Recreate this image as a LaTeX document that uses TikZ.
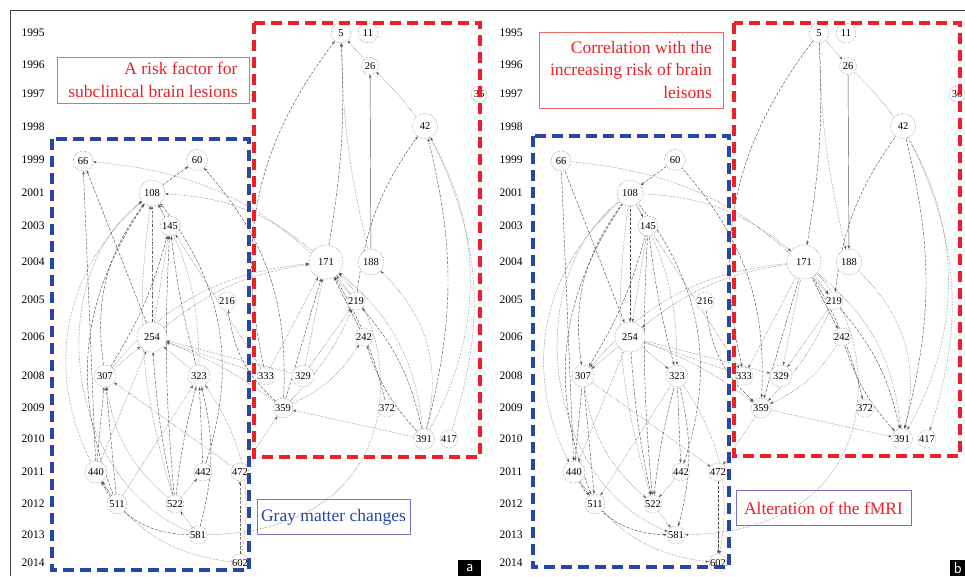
\documentclass[tikz,border=0pt]{standalone}
\usepackage{fontspec}
\setmainfont{Liberation Serif}
\usetikzlibrary{arrows.meta}
\definecolor{groupblue}{RGB}{38,70,168}
\definecolor{groupred}{RGB}{236,32,40}
\definecolor{tagred}{RGB}{240,105,95}
\definecolor{tagblue}{RGB}{120,115,205}
\pgfdeclarelayer{background}
\pgfsetlayers{background,main}

\begin{document}
\begin{tikzpicture}[x=1pt,y=-1pt,
  paper/.style={circle, draw=black!65, densely dotted, thin, fill=white, inner sep=0.3pt,
    font=\fontsize{10.5}{10.5}\selectfont},
  yearlabel/.style={font=\fontsize{11.5}{11.5}\selectfont},
  edge/.style={draw=black!68, line width=0.45pt, >={Stealth[length=3.4pt,width=2.6pt]}},
  dottedline/.style={densely dotted},
  dashedline/.style={dash pattern=on 3pt off 1.5pt},
  plainline/.style={solid},
  groupbox/.style={line width=3.2pt, dash pattern=on 11pt off 6pt},
  tagbox/.style={draw, line width=0.7pt, align=right, font=\fontsize{17.5}{22.5}\selectfont},
  panelmark/.style={fill=black, text=white, font=\sffamily\fontsize{16}{16}\selectfont,
    minimum width=23, minimum height=16, inner sep=0pt, anchor=north west}]
  \useasboundingbox (0,0) rectangle (965,576);
  \draw[black!75, line width=0.8pt] (10,576) -- (10,10) -- (965,10);

  % one citation network: #1 name prefix, #2 arrow direction
  \newcommand{\citenet}[2]{
    \foreach \yr/\y in {1995/33, 1996/65, 1997/94, 1998/127, 1999/160, 2001/193,
        2003/226, 2004/262, 2005/300, 2006/337, 2008/376, 2009/408, 2010/439,
        2011/472, 2012/504, 2013/535, 2014/563}
      \node[yearlabel] (#1y\yr) at (33,\y) {\yr};
    \foreach \n/\x/\y/\d in {5/341/33/20, 11/368/33/20, 26/370/66/17, 36/479/94/16,
        42/425/126/25, 66/83/161/20, 60/197/160/21, 108/152/193/26, 145/170/226/20,
        171/326/262/34, 188/371/262/26, 216/227/301/17, 219/356/301/18, 254/152/337/30,
        242/364/337/18, 307/105/376/22, 323/199/376/22, 333/266/376/18, 329/303/376/22,
        359/283/408/20, 372/387/408/18, 391/424/439/21, 417/449/439/18, 440/96/472/22,
        442/203/472/18, 472/240/472/18, 511/117/504/20, 522/175/504/18, 581/198/535/18,
        602/240/563/17}
      \node[paper, minimum size=\d] (#1\n) at (\x,\y) {\n};
    \begin{pgfonlayer}{background}
    \foreach \u/\v/\b/\s in {108/60/0/dashedline, 145/108/0/dottedline,
        219/66/-22/dottedline, 359/60/-22/dashedline, 171/108/-18/dottedline,
        254/66/0/dashedline, 440/66/0/dashedline, 307/108/22/dashedline,
        440/108/38/dottedline, 511/108/28/dashedline, 254/108/0/dashedline,
        522/108/12/dottedline, 323/108/-14/dottedline, 442/108/-28/dashedline,
        581/108/60/dottedline, 254/145/0/dottedline, 307/145/-8/dashedline,
        522/145/4/dashedline, 323/145/4/dashedline, 333/145/0/dottedline,
        307/254/0/dottedline, 440/254/0/dottedline, 522/254/4/dashedline,
        323/254/0/dottedline, 333/254/0/dottedline, 329/254/0/dottedline,
        359/254/-8/dottedline, 440/307/0/dashedline, 511/307/0/dashedline,
        522/307/20/dottedline, 472/307/0/dottedline, 442/323/0/dashedline,
        522/323/4/dashedline, 581/323/-14/dashedline, 602/323/-22/dottedline,
        511/323/0/dottedline, 511/440/0/dottedline, 581/440/30/dashedline,
        602/440/25/dottedline, 522/442/0/dottedline, 581/522/0/dottedline,
        602/472/0/dashedline, 472/359/0/dottedline, 359/216/20/dashedline,
        171/5/-6/dashedline, 188/5/6/dottedline, 26/5/0/dottedline,
        188/26/0/plainline, 333/5/25/dashedline, 391/26/-38/dottedline,
        391/42/-14/dashedline, 219/42/14/dashedline, 417/42/-22/dottedline,
        329/171/0/dottedline, 359/171/0/dashedline, 333/171/0/dottedline,
        219/171/0/dottedline, 242/171/0/dashedline, 254/171/15/dottedline,
        307/171/22/dottedline, 391/171/-22/dottedline, 391/219/-14/dashedline,
        391/242/12/dashedline, 391/188/-30/dottedline, 359/219/-10/dottedline,
        359/242/-16/dottedline, 372/171/-8/dashedline, 329/219/0/dottedline,
        391/359/0/dottedline}
      \draw[edge,#2,\s] (#1\u) to[bend left=\b] (#1\v);
    \draw[edge,#2,dottedline] (#1581) .. controls (420,530) and (400,330) .. (#1171);
    \end{pgfonlayer}
  }

  % panel a
  \citenet{a}{->}
  \draw[groupblue, groupbox] (52,139) rectangle (249,570);
  \draw[groupred, groupbox] (254,23) rectangle (480,457);
  \node[tagbox, draw=tagred, text=groupred, minimum width=192, minimum height=46]
    (risktag) at (153,80) {A risk factor for\\subclinical brain lesions};
  \node[tagbox, draw=tagblue, text=groupblue, minimum width=153, minimum height=35]
    (graytag) at (333.5,517) {Gray matter changes};
  \node[panelmark] (marka) at (458,560) {a};

  % panel b
  \begin{scope}[xshift=478]
    \citenet{b}{<-}
    \draw[groupblue, groupbox] (55,136) rectangle (251,567);
    \draw[groupred, groupbox] (256,23) rectangle (482,456);
    \node[tagbox, draw=tagred, text=groupred, minimum width=184, minimum height=76]
      (corrtag) at (153,70) {Correlation with the\\increasing risk of brain\\leisons};
    \node[tagbox, draw=tagblue, text=groupred, minimum width=175, minimum height=35]
      (fmritag) at (345.5,508) {Alteration of the fMRI};
    \node[panelmark, minimum width=15] (markb) at (472,560) {b};
  \end{scope}
\end{tikzpicture}
\end{document}
